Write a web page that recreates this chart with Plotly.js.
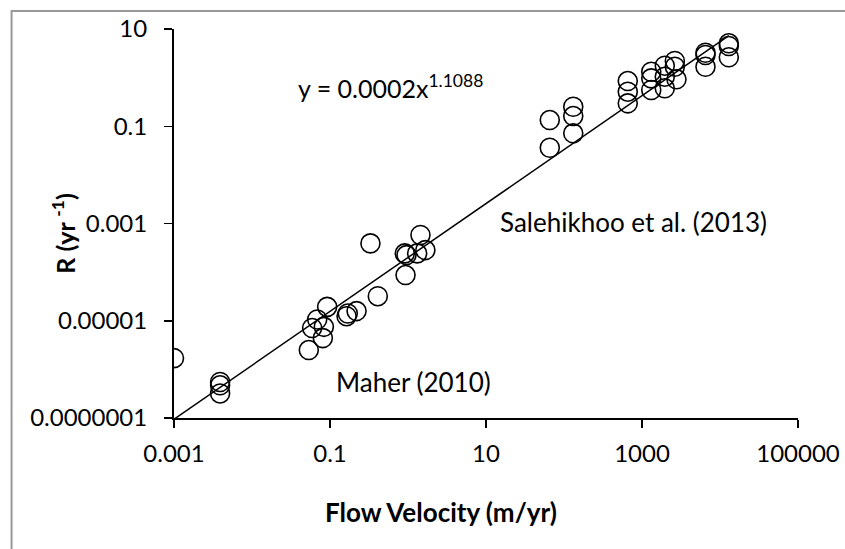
<!DOCTYPE html>
<html>
<head>
<meta charset="utf-8">
<script src="https://cdn.plot.ly/plotly-3.0.1.min.js"></script>
<style>html,body{margin:0;padding:0;background:#fff;}#chart{width:845px;height:549px;}</style>
</head>
<body>
<div id="chart"></div>
<script>
// Maher (2010)
var maherVelocity = [0.001, 0.0039, 0.0039, 0.0039, 0.0535, 0.059, 0.0686, 0.0834, 0.081, 0.092, 0.163, 0.169, 0.219, 0.41, 0.33, 0.93, 0.91, 0.957, 1.445, 1.31, 1.67];
var maherRate = [1.7e-6, 5.5e-7, 4.7e-7, 3.2e-7, 2.5e-6, 7.1e-6, 1.06e-5, 7.5e-6, 4.4e-6, 1.93e-5, 1.24e-5, 1.41e-5, 1.58e-5, 3.2e-5, 3.9e-4, 8.7e-5, 2.43e-4, 2.24e-4, 5.8e-4, 2.43e-4, 2.84e-4];
// Salehikhoo et al. (2013)
var salehVelocity = [65.7, 65.7, 131.4, 131.4, 131.4, 657, 657, 657, 1314, 1314, 1314, 1959, 1959, 1959, 2636, 2636, 2767, 6516, 6516, 6516, 12970, 12970, 12970];
var salehRate = [0.134, 0.0361, 0.252, 0.162, 0.0715, 0.851, 0.513, 0.296, 1.32, 0.966, 0.556, 1.758, 1.045, 0.603, 2.198, 1.675, 0.923, 3.25, 2.92, 1.675, 5.08, 4.47, 2.62];
// Power-law fit shown on chart
var fitCoef = 0.0002;
var fitExp = 1.1088;
var fitRange = [0.001, 12970];

var xTickVals = [0.001, 0.1, 10, 1000, 100000];
var xTickText = ["0.001", "0.1", "10", "1000", "100000"];
var yTickVals = [1e-7, 1e-5, 1e-3, 0.1, 10];
var yTickText = ["0.0000001", "0.00001", "0.001", "0.1", "10"];

var FONT = "Lato, 'Open Sans', sans-serif";
var fitY = fitRange.map(function(v){ return fitCoef * Math.pow(v, fitExp); });

var marker = {symbol: 'circle-open', size: 19, color: '#000', line: {color: '#000', width: 1.6}};
var traces = [
  {x: fitRange, y: fitY, mode: 'lines', line: {color: '#000', width: 1.5}, hoverinfo: 'skip', showlegend: false},
  {x: maherVelocity, y: maherRate, mode: 'markers', marker: marker, name: 'Maher (2010)', showlegend: false},
  {x: salehVelocity, y: salehRate, mode: 'markers', marker: marker, name: 'Salehikhoo et al. (2013)', showlegend: false}
];

var axisCommon = {
  type: 'log', showgrid: false, zeroline: false,
  showline: true, linecolor: '#000', linewidth: 2,
  ticks: 'outside', ticklen: 8, tickwidth: 1.5, tickcolor: '#000',
  tickmode: 'array', tickfont: {family: FONT, size: 24, color: '#000'}
};

var layout = {
  width: 845, height: 549,
  margin: {l: 173.5, r: 47.3, t: 29, b: 131.3},
  paper_bgcolor: '#fff', plot_bgcolor: '#fff',
  showlegend: false,
  xaxis: Object.assign({}, axisCommon, {range: [-3, 5], tickvals: xTickVals, ticktext: xTickText, ticklabelstandoff: 5}),
  yaxis: Object.assign({}, axisCommon, {range: [-7, 1], tickvals: yTickVals, ticktext: yTickText, ticklabelstandoff: 12}),
  annotations: [
    {text: 'y = 0.0002x<sup>1.1088</sup>', xref: 'x', yref: 'y', x: -1.43, y: -0.173, xanchor: 'left', yanchor: 'middle', showarrow: false, font: {family: FONT, size: 25, color: '#000'}},
    {text: 'Salehikhoo et al. (2013)', xref: 'x', yref: 'y', x: 2.891, y: -2.965, xanchor: 'center', yanchor: 'middle', showarrow: false, font: {family: FONT, size: 26, color: '#000'}},
    {text: 'Maher (2010)', xref: 'x', yref: 'y', x: 0.0705, y: -6.257, xanchor: 'center', yanchor: 'middle', showarrow: false, font: {family: FONT, size: 26, color: '#000'}},
    {text: '<b>Flow Velocity (m/yr)</b>', xref: 'paper', yref: 'paper', x: (440.5 - 173.5) / 624.2, y: 1 - (511.7 - 29) / 388.7, xanchor: 'center', yanchor: 'middle', showarrow: false, font: {family: FONT, size: 26, color: '#000'}},
    {text: '<b>R (yr <sup>-1</sup>)</b>', xref: 'paper', yref: 'paper', x: (63 - 173.5) / 624.2, y: 1 - (233 - 29) / 388.7, xanchor: 'center', yanchor: 'middle', textangle: -90, showarrow: false, font: {family: FONT, size: 25, color: '#000'}}
  ],
  shapes: [
    {type: 'rect', xref: 'paper', yref: 'paper', x0: (11 - 173.5) / 624.2, x1: (860 - 173.5) / 624.2, y0: 1 - (570 - 29) / 388.7, y1: 1 + (29 - 11) / 388.7, line: {color: '#999', width: 2}, fillcolor: 'rgba(0,0,0,0)', layer: 'below'}
  ]
};

Plotly.newPlot('chart', traces, layout, {staticPlot: true, displayModeBar: false});
</script>
</body>
</html>
